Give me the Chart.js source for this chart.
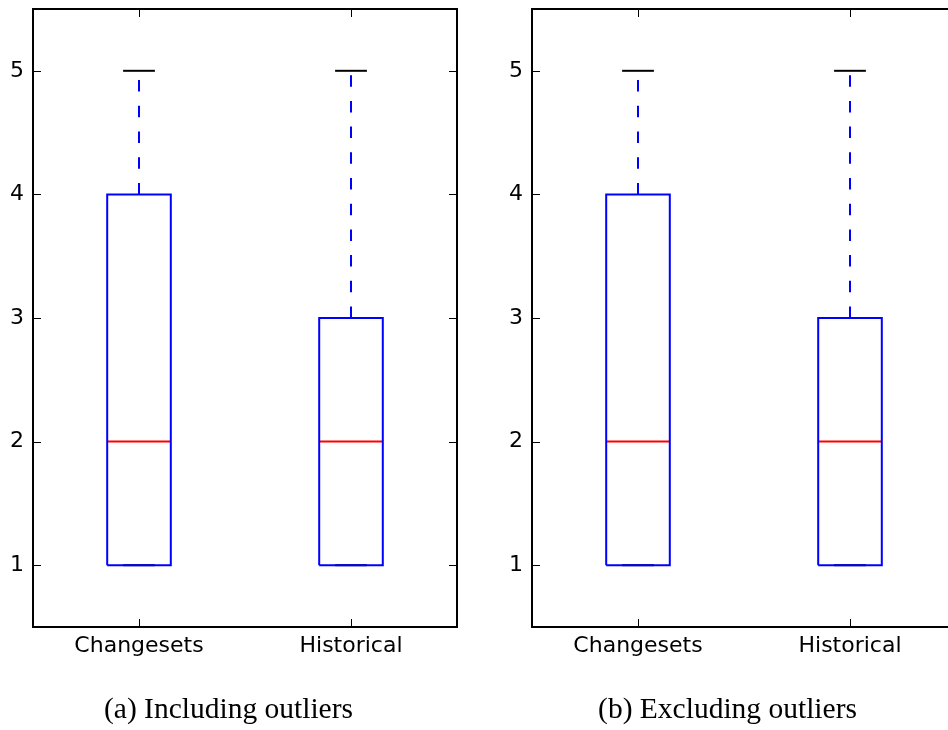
<!DOCTYPE html>
<html>
<head>
<meta charset="utf-8">
<script src="https://cdn.jsdelivr.net/npm/chart.js@4/dist/chart.umd.min.js"></script>
<style>
  html, body { margin: 0; padding: 0; background: #fff; overflow: hidden; width: 948px; height: 730px; }
  .panel { position: absolute; top: 0; height: 730px; }
  #wrapA { left: 0; width: 465px; }
  #wrapB { left: 480px; width: 504px; }
</style>
</head>
<body>
<div class="panel" id="wrapA"><canvas id="chartA" width="465" height="730"></canvas></div>
<div class="panel" id="wrapB"><canvas id="chartB" width="504" height="730"></canvas></div>
<script>
// categories and tick labels
const categories = ['Changesets', 'Historical'];
const yTicks = [1, 2, 3, 4, 5];

// (a) including outliers
const inclLow = [1, 1];
const inclQ1 = [1, 1];
const inclMedian = [2, 2];
const inclQ3 = [4, 3];
const inclHigh = [5, 5];

// (b) excluding outliers
const exclLow = [1, 1];
const exclQ1 = [1, 1];
const exclMedian = [2, 2];
const exclQ3 = [4, 3];
const exclHigh = [5, 5];

const BOX_HALF = 0.15;
const CAP_HALF = 0.075;

function seg(opts) {
  return Object.assign({
    type: 'scatter',
    showLine: true,
    fill: false,
    tension: 0,
    pointRadius: 0,
    pointHoverRadius: 0,
    borderWidth: 2
  }, opts);
}

function boxDatasets(low, q1, med, q3, high) {
  const sets = [];
  categories.forEach((c, i) => {
    const x = i + 1;
    sets.push(seg({
      data: [{x: x - BOX_HALF, y: q1[i]}, {x: x + BOX_HALF, y: q1[i]}, {x: x + BOX_HALF, y: q3[i]},
             {x: x - BOX_HALF, y: q3[i]}, {x: x - BOX_HALF, y: q1[i]}],
      borderColor: '#0000ff'
    }));
    sets.push(seg({data: [{x: x, y: q3[i]}, {x: x, y: high[i]}], borderColor: '#0000ff', borderDash: [11.5, 14.2]}));
    sets.push(seg({data: [{x: x, y: q1[i]}, {x: x, y: low[i]}], borderColor: '#0000ff', borderDash: [11.5, 14.2]}));
    sets.push(seg({data: [{x: x - CAP_HALF, y: high[i]}, {x: x + CAP_HALF, y: high[i]}], borderColor: '#000'}));
    sets.push(seg({data: [{x: x - CAP_HALF, y: low[i]}, {x: x + CAP_HALF, y: low[i]}], borderColor: '#000'}));
    sets.push(seg({data: [{x: x - BOX_HALF, y: med[i]}, {x: x + BOX_HALF, y: med[i]}], borderColor: '#ff0000'}));
  });
  return sets;
}

const framePlugin = {
  id: 'frame',
  afterDraw(chart) {
    const ctx = chart.ctx;
    const a = chart.chartArea;
    const xs = chart.scales.x, ys = chart.scales.y;
    ctx.save();
    ctx.strokeStyle = '#000';
    ctx.lineWidth = 1;
    ctx.beginPath();
    ys.ticks.forEach(t => {
      const py = Math.round(ys.getPixelForValue(t.value)) + 0.5;
      ctx.moveTo(a.left, py); ctx.lineTo(a.left + 8, py);
      ctx.moveTo(a.right, py); ctx.lineTo(a.right - 8, py);
    });
    xs.ticks.forEach(t => {
      const px = Math.round(xs.getPixelForValue(t.value)) + 0.5;
      ctx.moveTo(px, a.bottom); ctx.lineTo(px, a.bottom - 8);
      ctx.moveTo(px, a.top); ctx.lineTo(px, a.top + 8);
    });
    ctx.stroke();
    ctx.lineWidth = 2;
    ctx.strokeRect(a.left, a.top, a.right - a.left, a.bottom - a.top);
    ctx.restore();
  }
};

const tickFont = {family: '"DejaVu Sans"', size: 22};

function makeChart(id, caption, padLeft, padRight, datasets) {
  return new Chart(document.getElementById(id), {
    type: 'scatter',
    data: {datasets: datasets},
    options: {
      responsive: false,
      animation: false,
      layout: {padding: {top: 9, left: padLeft, right: padRight, bottom: 0}},
      plugins: {
        legend: {display: false},
        tooltip: {enabled: false},
        title: {
          display: true,
          position: 'bottom',
          text: caption,
          color: '#000',
          font: {family: '"Liberation Serif"', size: 29.5, weight: 'normal'},
          padding: {top: 0, bottom: 2}
        }
      },
      scales: {
        x: {
          type: 'linear',
          min: 0.5,
          max: 2.5,
          grid: {display: false, drawTicks: false},
          border: {display: false},
          afterBuildTicks: s => { s.ticks = categories.map((c, i) => ({value: i + 1})); },
          afterFit: s => { s.height = 65.6; s.paddingLeft = 0; s.paddingRight = 0; },
          ticks: {
            color: '#000',
            font: tickFont,
            padding: 6,
            maxRotation: 0,
            callback: (v, i) => categories[i]
          }
        },
        y: {
          type: 'linear',
          min: 0.5,
          max: 5.5,
          grid: {display: false, drawTicks: false},
          border: {display: false},
          afterBuildTicks: s => { s.ticks = yTicks.map(v => ({value: v})); },
          afterFit: s => { s.width = 33; s.paddingTop = 0; s.paddingBottom = 0; },
          ticks: {
            color: '#000',
            font: tickFont,
            padding: 9,
            callback: v => String(v)
          }
        }
      }
    },
    plugins: [framePlugin]
  });
}

makeChart('chartA', '(a) Including outliers', 0, 8,
  boxDatasets(inclLow, inclQ1, inclMedian, inclQ3, inclHigh));
makeChart('chartB', '(b) Excluding outliers', 19, 28,
  boxDatasets(exclLow, exclQ1, exclMedian, exclQ3, exclHigh));
</script>
</body>
</html>
